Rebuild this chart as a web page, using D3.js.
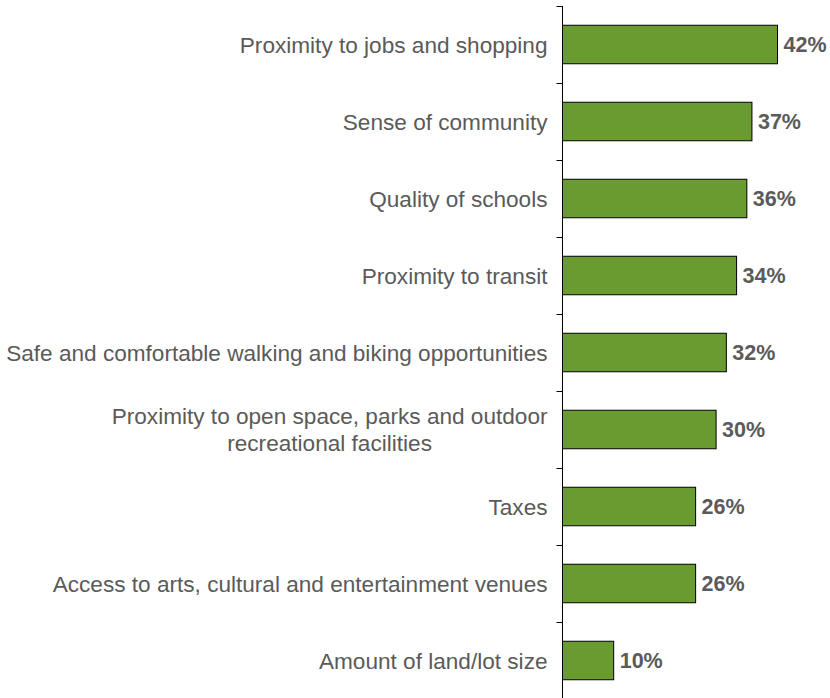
<!DOCTYPE html>
<html>
<head>
<meta charset="utf-8">
<script src="https://cdn.jsdelivr.net/npm/d3@7"></script>
<style>
  html, body { margin: 0; padding: 0; background: #ffffff; }
  svg { display: block; }
</style>
</head>
<body>
<svg id="chart" width="830" height="698"></svg>
<script>
// Survey factors (top to bottom) and share of respondents choosing each
const categories = [
  "Proximity to jobs and shopping",
  "Sense of community",
  "Quality of schools",
  "Proximity to transit",
  "Safe and comfortable walking and biking opportunities",
  "Proximity to open space, parks and outdoor|recreational facilities",
  "Taxes",
  "Access to arts, cultural and entertainment venues",
  "Amount of land/lot size"
];
const values = [42, 37, 36, 34, 32, 30, 26, 26, 10];
const keys = categories.map((c, i) => "k" + i);

const svg = d3.select("#chart");
const axisX = 562.5;
const plotTop = 6, plotBottom = 699;

const x = d3.scaleLinear().domain([0, 50]).range([axisX, axisX + 256]);
const y = d3.scaleBand().domain(keys).range([plotTop, plotBottom])
  .paddingInner(0.5).paddingOuter(0.25);

const textColor = "#5a5a5a";
const font = "'Liberation Sans', Arial, sans-serif";

// Bars
svg.append("g").selectAll("rect")
  .data(values)
  .join("rect")
  .attr("x", x(0))
  .attr("y", (d, i) => y(keys[i]))
  .attr("width", d => x(d) - x(0))
  .attr("height", y.bandwidth())
  .attr("fill", "#6a9b31")
  .attr("stroke", "#000000")
  .attr("stroke-width", 1);

// Value labels
svg.append("g").selectAll("text")
  .data(values)
  .join("text")
  .attr("x", d => x(d) + 6)
  .attr("y", (d, i) => y(keys[i]) + y.bandwidth() / 2)
  .attr("dy", "0.36em")
  .attr("font-family", font)
  .attr("font-size", 21.5)
  .attr("font-weight", "bold")
  .attr("fill", textColor)
  .text(d => d + "%");

// Category axis: vertical line with ticks at band boundaries
const axis = svg.append("g");
axis.append("line")
  .attr("x1", axisX).attr("x2", axisX)
  .attr("y1", plotTop).attr("y2", plotBottom)
  .attr("stroke", "#000").attr("stroke-width", 1);
const boundaries = d3.range(keys.length + 1).map(i => plotTop + i * y.step());
axis.selectAll("line.tick")
  .data(boundaries)
  .join("line")
  .attr("class", "tick")
  .attr("x1", axisX - 6).attr("x2", axisX)
  .attr("y1", d => Math.round(d) + 0.5).attr("y2", d => Math.round(d) + 0.5)
  .attr("stroke", "#000").attr("stroke-width", 1);

// Category labels (multi-line labels use "|" as a break)
const labels = svg.append("g").selectAll("text")
  .data(categories)
  .join("text")
  .attr("font-family", font)
  .attr("font-size", 22.6)
  .attr("fill", textColor)
  .attr("text-anchor", "middle");

const lineH = 27.5;
labels.each(function (c, i) {
  const lines = c.split("|");
  const t = d3.select(this);
  const cy = y(keys[i]) + y.bandwidth() / 2;
  if (lines.length === 1) {
    t.attr("text-anchor", "end")
      .attr("x", axisX - 15)
      .attr("y", cy)
      .attr("dy", "0.36em")
      .text(lines[0]);
  } else {
    // Wrapped label: lines centred on each other, block right-aligned to the axis
    t.selectAll("tspan").data(lines).join("tspan")
      .attr("y", (l, j) => cy + (j - (lines.length - 1) / 2) * lineH)
      .attr("dy", "0.36em")
      .text(l => l);
    const widths = [];
    t.selectAll("tspan").each(function () { widths.push(this.getComputedTextLength()); });
    const maxW = d3.max(widths);
    const centerX = axisX - 15 - maxW / 2;
    t.selectAll("tspan").attr("x", centerX);
  }
});
</script>
</body>
</html>
